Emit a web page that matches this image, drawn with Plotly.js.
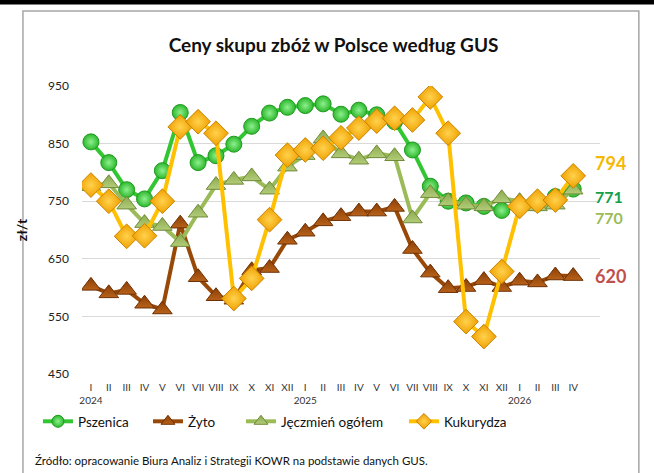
<!DOCTYPE html>
<html><head><meta charset="utf-8">
<script src="https://cdn.plot.ly/plotly-3.0.1.min.js"></script>
<style>html,body{margin:0;padding:0;background:#fff;}#chart{width:654px;height:473px;}</style>
</head><body><div id="chart"></div>
<script>
const months = ["I","II","III","IV","V","VI","VII","VIII","IX","X","XI","XII",
                "I","II","III","IV","V","VI","VII","VIII","IX","X","XI","XII",
                "I","II","III","IV"];
const yearLabels = {0:"2024", 12:"2025", 24:"2026"};
const pszenica = [853,817,770,754,803,904,817,829,849,880,903,913,916,919,901,908,900,888,839,776,750,747,741,734,742,746,758,771];
const zyto = [603,590,596,572,562,711,618,585,579,630,634,683,697,715,724,732,732,740,667,626,599,601,613,601,612,609,621,620];
const jeczmien = [776,781,744,712,707,679,730,778,787,793,770,810,830,859,833,822,833,828,720,764,750,744,741,755,750,741,744,770];
const kukurydza = [778,750,689,690,750,879,888,868,581,616,718,830,839,842,860,877,889,894,891,931,868,541,515,628,741,750,752,794];
const endLabels = ["771","620","770","794"];
const seriesNames = ["Pszenica","Żyto","Jęczmień ogółem","Kukurydza"];

const xs = months.map((m,i)=>i);
const ticktext = months.map((m,i)=> yearLabels[i] ? m + "<br>" + yearLabels[i] : m);

const FONT = "Lato, 'Open Sans', sans-serif";
const styles = [
  {line:{color:"#33C633", width:4},
   marker:{symbol:"circle", size:16, color:"#2DB82D", gradient:{type:"radial", color:"#8EF08E"}, line:{color:"#1E9A1E", width:1}}},
  {line:{color:"#984807", width:4},
   marker:{symbol:"triangle-up", size:17, color:"#8A3E05", gradient:{type:"vertical", color:"#B8621A"}, line:{color:"#6E3003", width:1}}},
  {line:{color:"#9BBB59", width:4},
   marker:{symbol:"triangle-up", size:17, color:"#8AAA4C", gradient:{type:"vertical", color:"#B3CC7A"}, line:{color:"#6F8A38", width:1}}},
  {line:{color:"#FFC000", width:4},
   marker:{symbol:"diamond", size:19, color:"#F0A000", gradient:{type:"radial", color:"#FFD24D"}, line:{color:"#C88400", width:1}}}
];
const legendWidths = [65, 48, 118, 62];
const dataSets = [pszenica, zyto, jeczmien, kukurydza];
const traces = dataSets.map((d,i)=>Object.assign({x:xs, y:d, type:"scatter", mode:"lines+markers",
  name:seriesNames[i], showlegend:false}, styles[i]));
// legend entries with smaller markers
dataSets.forEach((d,i)=>{
  const s = styles[i];
  traces.push({x:[null], y:[null], type:"scatter", mode:"lines+markers", name:seriesNames[i],
    legendwidth: legendWidths[i],
    line:{color:s.line.color, width:4},
    marker:Object.assign({}, s.marker, {size: 12})});
});

const layout = {
  width:654, height:473,
  margin:{l:82, r:54, t:86, b:99},
  paper_bgcolor:"#fff", plot_bgcolor:"#fff",
  title:{text:"<b>Ceny skupu zbóż w Polsce według GUS</b>", font:{family:FONT, size:19, color:"#111"},
         x:0.51, xanchor:"center", y:0.905, yanchor:"middle"},
  showlegend:true,
  legend:{orientation:"h", x:-0.085, xanchor:"left", y:-0.165, yanchor:"middle",
          font:{family:FONT, size:13.5, color:"#111"}, traceorder:"normal", itemwidth:30},
  xaxis:{range:[-0.5,28.5], tickmode:"array", tickvals:xs, ticktext:ticktext,
         showgrid:false, zeroline:false, showline:false, ticks:"", ticklabelstandoff:6,
         tickfont:{family:FONT, size:10, color:"#333"}, tickangle:0, fixedrange:true},
  yaxis:{range:[450,950], tickvals:[450,550,650,750,850,950], showgrid:true,
         gridcolor:"#D9D9D9", gridwidth:1, zeroline:false, showline:false,
         tickfont:{family:FONT, size:12, color:"#222"}, ticks:"", ticklabelstandoff:12,
         title:{text:"<b>zł/t</b>", font:{family:FONT, size:14, color:"#111"}, standoff:17}},
  shapes:[
    {type:"rect", xref:"paper", yref:"paper", x0:-0.114, x1:1.075, y0:-0.42, y1:1.26,
     line:{color:"#A6A6A6", width:1.5}, fillcolor:"rgba(0,0,0,0)", layer:"below"},
    {type:"rect", xref:"paper", yref:"paper", x0:-0.2, x1:1.2, y0:1.283, y1:1.32,
     line:{width:0}, fillcolor:"#000"}
  ],
  annotations:[
    {text:"<b>"+endLabels[3]+"</b>", x:27, y:kukurydza[27], xref:"x", yref:"y", xanchor:"left", yshift:13, xshift:20,
     showarrow:false, font:{family:FONT, size:18, color:"#F5B800"}},
    {text:"<b>"+endLabels[0]+"</b>", x:27, y:pszenica[27], xref:"x", yref:"y", xanchor:"left", yanchor:"middle", yshift:-7, xshift:20,
     showarrow:false, font:{family:FONT, size:16, color:"#12A04A"}},
    {text:"<b>"+endLabels[2]+"</b>", x:27, y:jeczmien[27], xref:"x", yref:"y", xanchor:"left", yanchor:"middle", yshift:-28, xshift:20,
     showarrow:false, font:{family:FONT, size:16, color:"#9BBB59"}},
    {text:"<b>"+endLabels[1]+"</b>", x:27, y:zyto[27], xref:"x", yref:"y", xanchor:"left", yshift:0, xshift:20,
     showarrow:false, font:{family:FONT, size:18, color:"#C0504D"}},
    {text:"Źródło: opracowanie Biura Analiz i Strategii KOWR na podstawie danych GUS.", xref:"paper", yref:"paper",
     x:-0.095, y:-0.3, xanchor:"left", yanchor:"middle", showarrow:false,
     font:{family:FONT, size:11.5, color:"#111"}}
  ]
};
Plotly.newPlot("chart", traces, layout, {displayModeBar:false, staticPlot:true});
</script></body></html>
